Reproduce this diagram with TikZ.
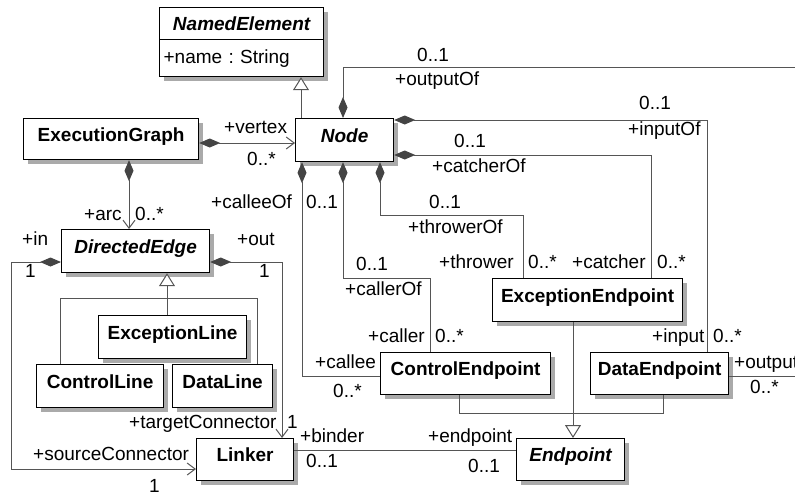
\documentclass[tikz,border=0pt]{standalone}
\usepackage{fontspec}
\setmainfont{Liberation Sans}
\usetikzlibrary{arrows.meta,shadows}

\definecolor{linegray}{HTML}{555555}
\definecolor{diagray}{HTML}{444444}
\definecolor{shadowgray}{HTML}{AAAAAA}
\newcommand{\umlsize}{\fontsize{19}{22}\selectfont\frenchspacing}

\tikzset{
  umlclass/.style={draw=black, fill=white, line width=1.2pt, anchor=north west,
    inner sep=2pt, text height=15pt, text depth=11pt, font=\umlsize\bfseries,
    drop shadow={shadow xshift=4pt, shadow yshift=-4pt, fill=shadowgray, opacity=1}},
  umlabstract/.style={umlclass, font=\umlsize\bfseries\itshape},
  role/.style={anchor=base west, inner sep=0pt, font=\umlsize},
  assoc/.style={draw=linegray, line width=1pt},
  comp/.style={assoc, {Diamond[length=21pt, width=9pt, fill=diagray, color=diagray]}-},
  compnav/.style={assoc, {Diamond[length=21pt, width=9pt, fill=diagray, color=diagray]}-{Straight Barb[length=8pt, width=12pt]}},
  gen/.style={assoc, -{Triangle[length=13pt, width=16pt, fill=white]}},
}

\begin{document}
\begin{tikzpicture}[x=1pt, y=-1pt]
  \useasboundingbox (0,0) rectangle (795,495);

  % classes
  \node[umlabstract, minimum width=164pt, minimum height=32pt, text depth=1pt] (named) at (159,7) {NamedElement};
  \node[umlclass, font=\umlsize, minimum width=164pt, minimum height=37pt, text depth=4pt,
        inner xsep=4pt, text width=156pt, align=left] (namedattr) at (159,39) {+name : String};
  \node[umlclass, minimum width=175pt, minimum height=41pt] (execgraph) at (23,118) {ExecutionGraph};
  \node[umlabstract, minimum width=98pt, minimum height=43pt] (nodeclass) at (295,118) {Node};
  \node[umlabstract, minimum width=148pt, minimum height=43pt] (diredge) at (61,229) {DirectedEdge};
  \node[umlclass, minimum width=148pt, minimum height=43pt] (excline) at (98,315) {ExceptionLine};
  \node[umlclass, minimum width=127pt, minimum height=43pt] (ctrlline) at (36,364) {ControlLine};
  \node[umlclass, minimum width=100pt, minimum height=43pt] (dataline) at (172,364) {DataLine};
  \node[umlclass, minimum width=97pt, minimum height=42pt] (linker) at (196,438) {Linker};
  \node[umlclass, minimum width=190pt, minimum height=43pt] (excep) at (492,278) {ExceptionEndpoint};
  \node[umlclass, minimum width=170pt, minimum height=42pt] (ctrlep) at (380,352) {ControlEndpoint};
  \node[umlclass, minimum width=138pt, minimum height=42pt] (dataep) at (590,352) {DataEndpoint};
  \node[umlabstract, minimum width=108pt, minimum height=42pt] (endpoint) at (516,438) {Endpoint};

  % generalizations
  \coordinate (nodegen) at (301,0);
  \draw[gen] (nodeclass.north -| nodegen) -- (namedattr.south -| nodegen);
  \coordinate (edgegen) at (167,298);
  \coordinate (lbar) at (60,298);
  \coordinate (rbar) at (257,298);
  \draw[assoc] (ctrlline.north -| lbar) -- (lbar) -- (rbar) -- (dataline.north -| rbar);
  \draw[gen] (excline.north -| edgegen) -- (diredge.south -| edgegen);
  \coordinate (epgen) at (573,0);
  \coordinate (lbar2) at (459,413);
  \coordinate (rbar2) at (663,413);
  \draw[assoc] (ctrlep.south -| lbar2) -- (lbar2) -- (rbar2) -- (dataep.south -| rbar2);
  \draw[gen] (excep.south -| epgen) -- (endpoint.north -| epgen);

  % associations
  \coordinate (vertexy) at (0,143);
  \draw[compnav] (execgraph.east |- vertexy) -- (nodeclass.west |- vertexy);
  \coordinate (arcx) at (129,0);
  \draw[compnav] (execgraph.south -| arcx) -- (diredge.north -| arcx);
  \coordinate (inbend) at (11,262);
  \coordinate (srcbend) at (11,469);
  \draw[compnav] (diredge.west |- inbend) -- (inbend) -- (srcbend) -- (linker.west |- srcbend);
  \coordinate (outbend) at (282,262);
  \draw[compnav] (diredge.east |- outbend) -- (outbend) -- (linker.north -| outbend);
  \coordinate (bindy) at (0,450);
  \draw[assoc] (linker.east |- bindy) -- (endpoint.west |- bindy);

  % compositions owned by Node
  \coordinate (outofbend) at (343,68);
  \coordinate (outofedge) at (815,68);
  \coordinate (outputy) at (815,376);
  \draw[comp] (nodeclass.north -| outofbend) -- (outofbend) -- (outofedge) -- (outputy) -- (dataep.east |- outputy);
  \coordinate (inofbend) at (707,120);
  \draw[comp] (nodeclass.east |- inofbend) -- (inofbend) -- (dataep.north -| inofbend);
  \coordinate (catchbend) at (651,155);
  \draw[comp] (nodeclass.east |- catchbend) -- (catchbend) -- (excep.north -| catchbend);
  \coordinate (throwa) at (380,215);
  \coordinate (throwb) at (523,215);
  \draw[comp] (nodeclass.south -| throwa) -- (throwa) -- (throwb) -- (excep.north -| throwb);
  \coordinate (calla) at (343,278);
  \coordinate (callb) at (430,278);
  \draw[comp] (nodeclass.south -| calla) -- (calla) -- (callb) -- (ctrlep.north -| callb);
  \coordinate (calleebend) at (302,376);
  \draw[comp] (nodeclass.south -| calleebend) -- (calleebend) -- (ctrlep.west |- calleebend);

  % role names and multiplicities
  \foreach \lx/\ly/\ltext [count=\i] in {
      224/133/+vertex, 247/165/0..*, 84/220/+arc, 135/220/0..*,
      211/208/+calleeOf, 306/208/0..1, 22/245/+in, 25/277/1,
      237/245/+out, 259/277/1, 129/428/+targetConnector, 287/428/1,
      33/460/+sourceConnector, 149/492/1, 300/442/+binder, 306/467/0..1,
      428/442/+endpoint, 468/472/0..1, 417/62/0..1, 395/85/+outputOf,
      639/110/0..1, 628/135/+inputOf, 454/147/0..1, 432/172/+catcherOf,
      429/208/0..1, 408/233/+throwerOf, 356/270/0..1, 345/295/+callerOf,
      439/268/+thrower, 528/268/0..*, 572/268/+catcher, 657/268/0..*,
      368/342/+caller, 435/342/0..*, 652/342/+input, 713/342/0..*,
      315/368/+callee, 333/397/0..*, 734/368/+output, 750/393/0..*
  } {
    \node[role] (role\i) at (\lx,\ly) {\ltext};
  }
\end{tikzpicture}
\end{document}
